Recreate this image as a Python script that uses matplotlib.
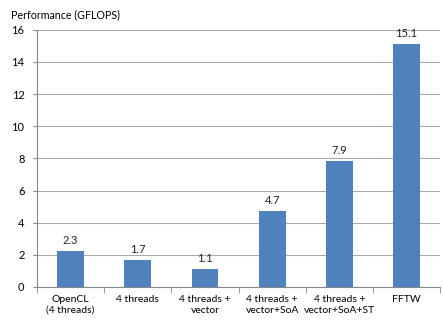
import numpy as np
import matplotlib
matplotlib.use('Agg')
import matplotlib.pyplot as plt

categories = ['OpenCL\n(4 threads)', '4 threads', '4 threads +\nvector',
              '4 threads +\nvector+SoA', '4 threads +\nvector+SoA+ST', 'FFTW']
gflops = [2.3, 1.7, 1.1, 4.7, 7.9, 15.1]
shown = [2.25, 1.7, 1.1, 4.75, 7.85, 15.15]
yticks = [0, 2, 4, 6, 8, 10, 12, 14, 16]

plt.rcParams['font.family'] = ['Lato', 'DejaVu Sans']
fig = plt.figure(figsize=(4.43, 3.21), dpi=100)
ax = fig.add_axes([0.0835, 0.106, 0.91, 0.801])

x = np.arange(len(categories))
ax.bar(x, shown, width=0.4, color='#4F81BD', zorder=3)
for xi, v, lab in zip(x, shown, gflops):
    ax.text(xi, v + 0.3, '%.1f' % lab, ha='center', va='bottom', fontsize=8, color='#222222')

ax.set_xlim(-0.5, len(categories) - 0.5)
ax.set_ylim(0, 16)
ax.set_yticks(yticks)
ax.tick_params(axis='y', labelsize=8, length=3, color='#888888', pad=6)
ax.yaxis.grid(True, color='#aaaaaa', linewidth=0.8, zorder=0)
ax.set_xticks(x)
ax.set_xticklabels(categories, fontsize=7.5)
ax.tick_params(axis='x', length=0, pad=6)
ax.set_xticks(np.arange(len(categories) + 1) - 0.5, minor=True)
ax.tick_params(axis='x', which='minor', length=4, color='#888888')
for s in ['top', 'right']:
    ax.spines[s].set_visible(False)
ax.spines['left'].set_color('#888888')
ax.spines['bottom'].set_color('#888888')
fig.text(0.025, 0.955, 'Performance (GFLOPS)', fontsize=7.7, va='center', ha='left')

fig.savefig('out.png', dpi=100)
